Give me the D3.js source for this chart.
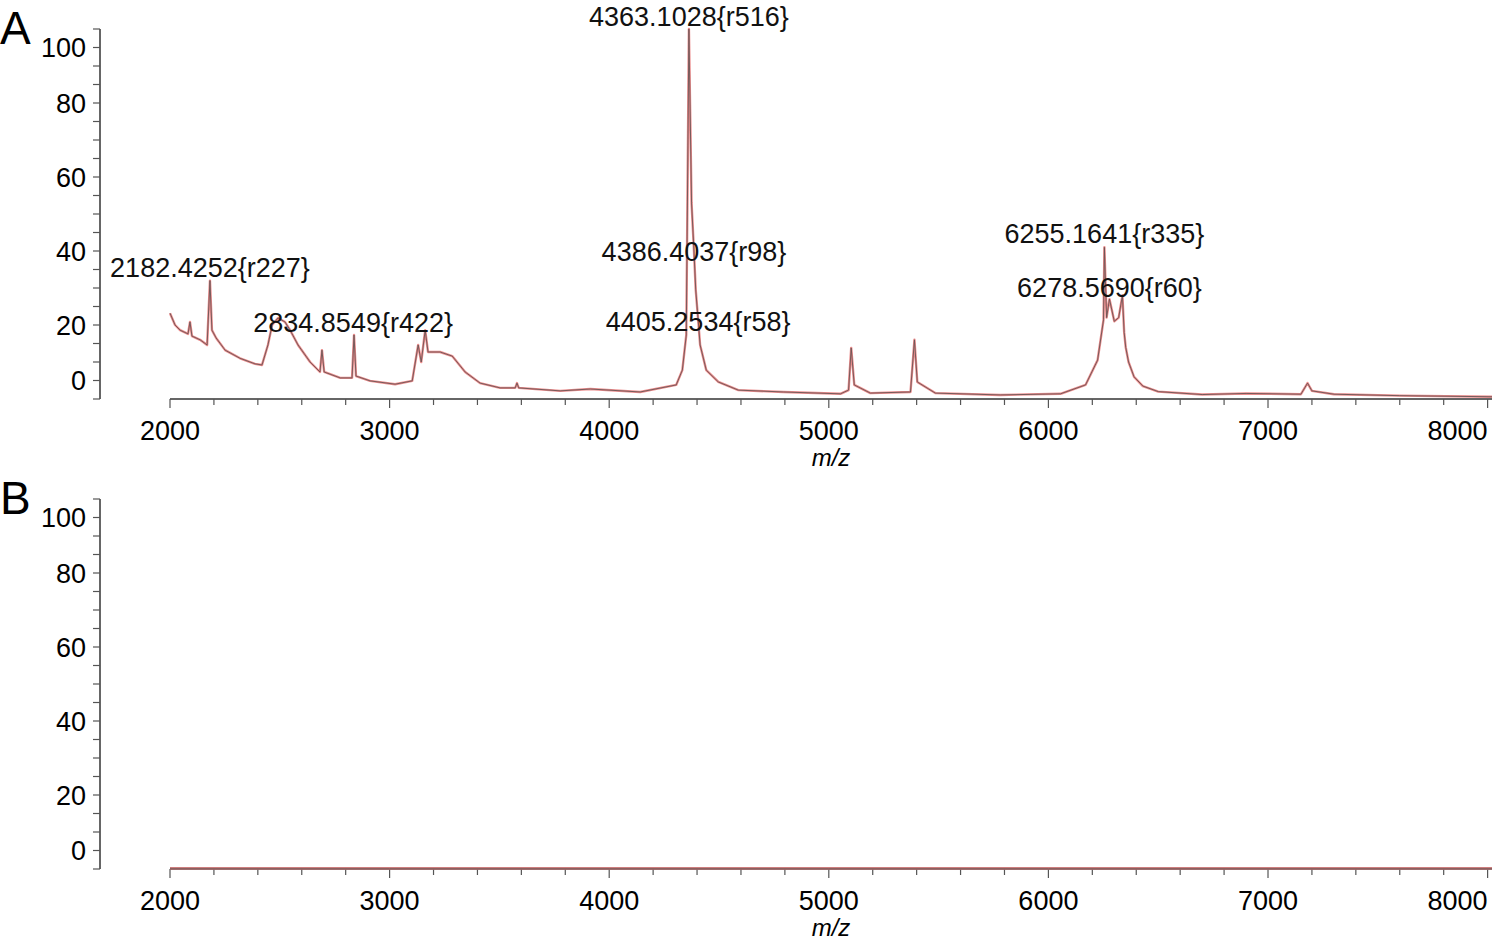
<!DOCTYPE html>
<html>
<head>
<meta charset="utf-8">
<script src="https://cdn.jsdelivr.net/npm/d3@7"></script>
<style>
  body { margin: 0; background: #fff; }
  text { font-family: "Liberation Sans", Arial, sans-serif; }
</style>
</head>
<body>
<svg></svg>
<script>
const width = 1500;
const height = 942;

// spectrum A: m/z and relative intensity
const mzA = [2000, 2023, 2046, 2082, 2091, 2100, 2137, 2169, 2182, 2191, 2210, 2251, 2319, 2387, 2419, 2446, 2465, 2492, 2524, 2547, 2583, 2638, 2683, 2692, 2702, 2775, 2829, 2838, 2847, 2911, 3025, 3103, 3130, 3144, 3162, 3175, 3230, 3285, 3344, 3412, 3503, 3572, 3580, 3588, 3777, 3914, 4141, 4305, 4333, 4351, 4363, 4375, 4386, 4394, 4405, 4414, 4442, 4497, 4588, 4793, 5053, 5090, 5102, 5116, 5189, 5372, 5390, 5403, 5485, 5781, 6055, 6169, 6224, 6251, 6255, 6265, 6278, 6300, 6320, 6337, 6345, 6352, 6365, 6390, 6430, 6500, 6700, 6900, 7150, 7180, 7200, 7300, 7600, 8020];
const intA = [23.2, 20, 18.6, 17.6, 20.8, 17, 16, 14.6, 32, 18.6, 16.5, 13.2, 11, 9.5, 9.2, 14.6, 20, 21.9, 20.8, 18.6, 14.6, 10, 7.3, 13.2, 7.3, 5.7, 5.7, 17.3, 6.2, 4.9, 4, 4.9, 14.6, 10, 18.6, 12.7, 12.7, 11.6, 7.3, 4.3, 3, 3, 4.3, 3, 2.2, 2.7, 1.9, 3.8, 7.8, 17.3, 100, 53, 40, 29.5, 21.4, 14.6, 7.8, 4.6, 2.4, 1.9, 1.4, 2.4, 13.8, 3.8, 1.6, 1.9, 16, 4.6, 1.6, 1.1, 1.4, 3.8, 10.5, 21.4, 41, 22, 27, 21, 22, 28, 18, 14, 10, 6, 3.5, 2, 1.2, 1.5, 1.3, 4.3, 2.2, 1.3, 0.9, 0.6];

// spectrum B: flat
const mzB = [2000, 3000, 4000, 5000, 6000, 7000, 8020];
const intB = [0.2, 0.2, 0.2, 0.2, 0.2, 0.2, 0.2];

const peakLabels = ["2182.4252{r227}", "2834.8549{r422}", "4363.1028{r516}", "4386.4037{r98}", "4405.2534{r58}", "6255.1641{r335}", "6278.5690{r60}"];
const peakMz = [2182, 2834, 4363, 4386, 4405, 6255, 6278];
const peakY = [33, 18.1, 100.8, 37.3, 18.4, 42.2, 27.6];

const xTicks = [2000, 3000, 4000, 5000, 6000, 7000, 8000];
const yTicks = [0, 20, 40, 60, 80, 100];

const svg = d3.select("svg").attr("width", width).attr("height", height);

const x = d3.scaleLinear().domain([2000, 8020]).range([170, 1492]);

function drawPanel(offset, letter, mz, inten) {
    const g = svg.append("g").attr("transform", `translate(0, ${offset})`);
    const y = d3.scaleLinear().domain([0, 100]).range([399, 29]);

    g.append("text").attr("x", 0).attr("y", 44).attr("font-size", 46).text(letter);

    // y axis
    g.append("line").attr("x1", 100).attr("x2", 100).attr("y1", 29).attr("y2", 399)
        .attr("stroke", "#333").attr("stroke-width", 1.5);
    g.selectAll(".ymin").data(d3.range(0, 101, 5)).join("line")
        .attr("x1", 93).attr("x2", 100)
        .attr("y1", d => y(d)).attr("y2", d => y(d))
        .attr("stroke", "#555").attr("stroke-width", 1.2);
    g.selectAll(".ylab").data(yTicks).join("text")
        .attr("x", 86).attr("text-anchor", "end").attr("font-size", 27)
        .attr("y", d => y(d) + 10 + (d === 0 ? -19 : d === 100 ? 18 : 0))
        .text(d => d);

    // x axis
    g.append("line").attr("x1", 170).attr("x2", 1492).attr("y1", 399).attr("y2", 399)
        .attr("stroke", "#333").attr("stroke-width", 1.5);
    g.selectAll(".xmin").data(d3.range(2000, 8001, 200)).join("line")
        .attr("x1", d => x(d)).attr("x2", d => x(d))
        .attr("y1", 399).attr("y2", d => d % 1000 === 0 ? 408 : 405)
        .attr("stroke", "#555").attr("stroke-width", 1.2);
    g.selectAll(".xlab").data(xTicks).join("text")
        .attr("x", d => x(d) - (d === 8000 ? 30 : 0)).attr("y", 440)
        .attr("text-anchor", "middle").attr("font-size", 27)
        .text(d => d);
    g.append("text").attr("x", 831).attr("y", 466).attr("text-anchor", "middle")
        .attr("font-size", 24).attr("font-style", "italic").text("m/z");

    const line = d3.line().x((d, i) => x(mz[i])).y(d => y(d));
    g.append("path").datum(inten).attr("d", line)
        .attr("fill", "none").attr("stroke", "#e87878").attr("stroke-width", 2.4)
        .attr("stroke-linejoin", "round").attr("opacity", 0.85);
    g.append("path").datum(inten).attr("d", line)
        .attr("fill", "none").attr("stroke", "#6a5555").attr("stroke-width", 0.9);
    return y;
}

const yA = drawPanel(0, "A", mzA, intA);
drawPanel(470, "B", mzB, intB);

svg.selectAll(".peak").data(peakLabels).join("text")
    .attr("x", (d, i) => x(peakMz[i]))
    .attr("y", (d, i) => yA(peakY[i]))
    .attr("text-anchor", "middle").attr("font-size", 27)
    .attr("fill", "#111")
    .text(d => d);
</script>
</body>
</html>
